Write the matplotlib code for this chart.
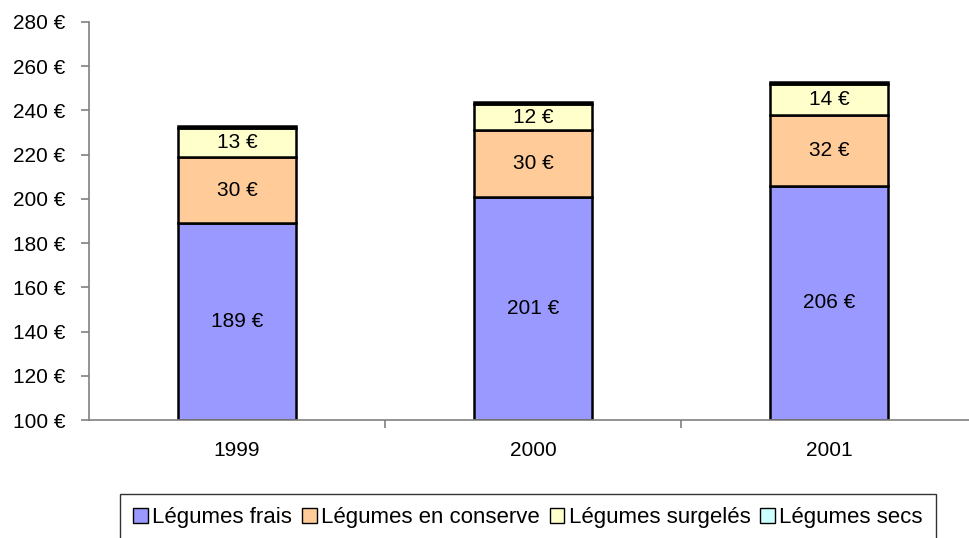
import numpy as np
import matplotlib
matplotlib.use('Agg')
import matplotlib.pyplot as plt
from matplotlib.patches import Patch

plt.rcParams['font.family'] = ['Liberation Sans', 'DejaVu Sans']

years = ['1999', '2000', '2001']
frais = [189, 201, 206]
conserve = [30, 30, 32]
surgeles = [13, 12, 14]
secs = [1, 1, 1]
series_names = ['Légumes frais', 'Légumes en conserve', 'Légumes surgelés', 'Légumes secs']
colors = ['#9999FF', '#FFCC99', '#FFFFCC', '#CCFFFF']

fig = plt.figure(figsize=(9.7, 5.38), dpi=100)
ax = fig.add_axes([89/970, 1-420/538, 888/970, 398/538])

x = np.arange(len(years))
bottom = np.full(len(years), 100.0)
data = [frais, conserve, surgeles, secs]
for i, (vals, col) in enumerate(zip(data, colors)):
    vals = np.array(vals, dtype=float)
    # first segment starts at the axis minimum (100)
    heights = vals - 100 if i == 0 else vals
    ax.bar(x, heights, 0.4, bottom=bottom, color=col, edgecolor='black', linewidth=1.8)
    if i < 3:
        for xi, b, h, v in zip(x, bottom, heights, vals):
            ax.text(xi, b + h / 2, '%d €' % v, ha='center', va='center', fontsize=15)
    bottom = bottom + heights

ax.set_xlim(-0.5, 2.5)
ax.set_ylim(100, 280)
ax.set_yticks(np.arange(100, 281, 20))
ax.set_yticklabels(['%d €' % v for v in range(100, 281, 20)], fontsize=15)
ax.set_xticks(x)
ax.set_xticklabels(years, fontsize=15)
ax.tick_params(axis='x', length=0, pad=15)
ax.set_xticks([0.5, 1.5], minor=True)
ax.tick_params(axis='x', which='minor', length=6, color='#808080', width=1.2)
ax.tick_params(axis='y', length=6, color='#808080', width=1.2, pad=11)
for s in ['top', 'right']:
    ax.spines[s].set_visible(False)
for s in ['left', 'bottom']:
    ax.spines[s].set_color('#808080')
    ax.spines[s].set_linewidth(1.2)

handles = [Patch(facecolor=c, edgecolor='black', linewidth=1) for c in colors]
leg = fig.legend(handles, series_names, loc='upper left', bbox_to_anchor=(120/970, 1-494/538),
                 ncol=4, fontsize=16, frameon=True, fancybox=False, edgecolor='black',
                 handlelength=0.65, handleheight=0.65, handletextpad=0.2, columnspacing=0.45,
                 borderpad=0.6, borderaxespad=0)
leg.get_frame().set_linewidth(1)

fig.savefig('out.png', dpi=100)
